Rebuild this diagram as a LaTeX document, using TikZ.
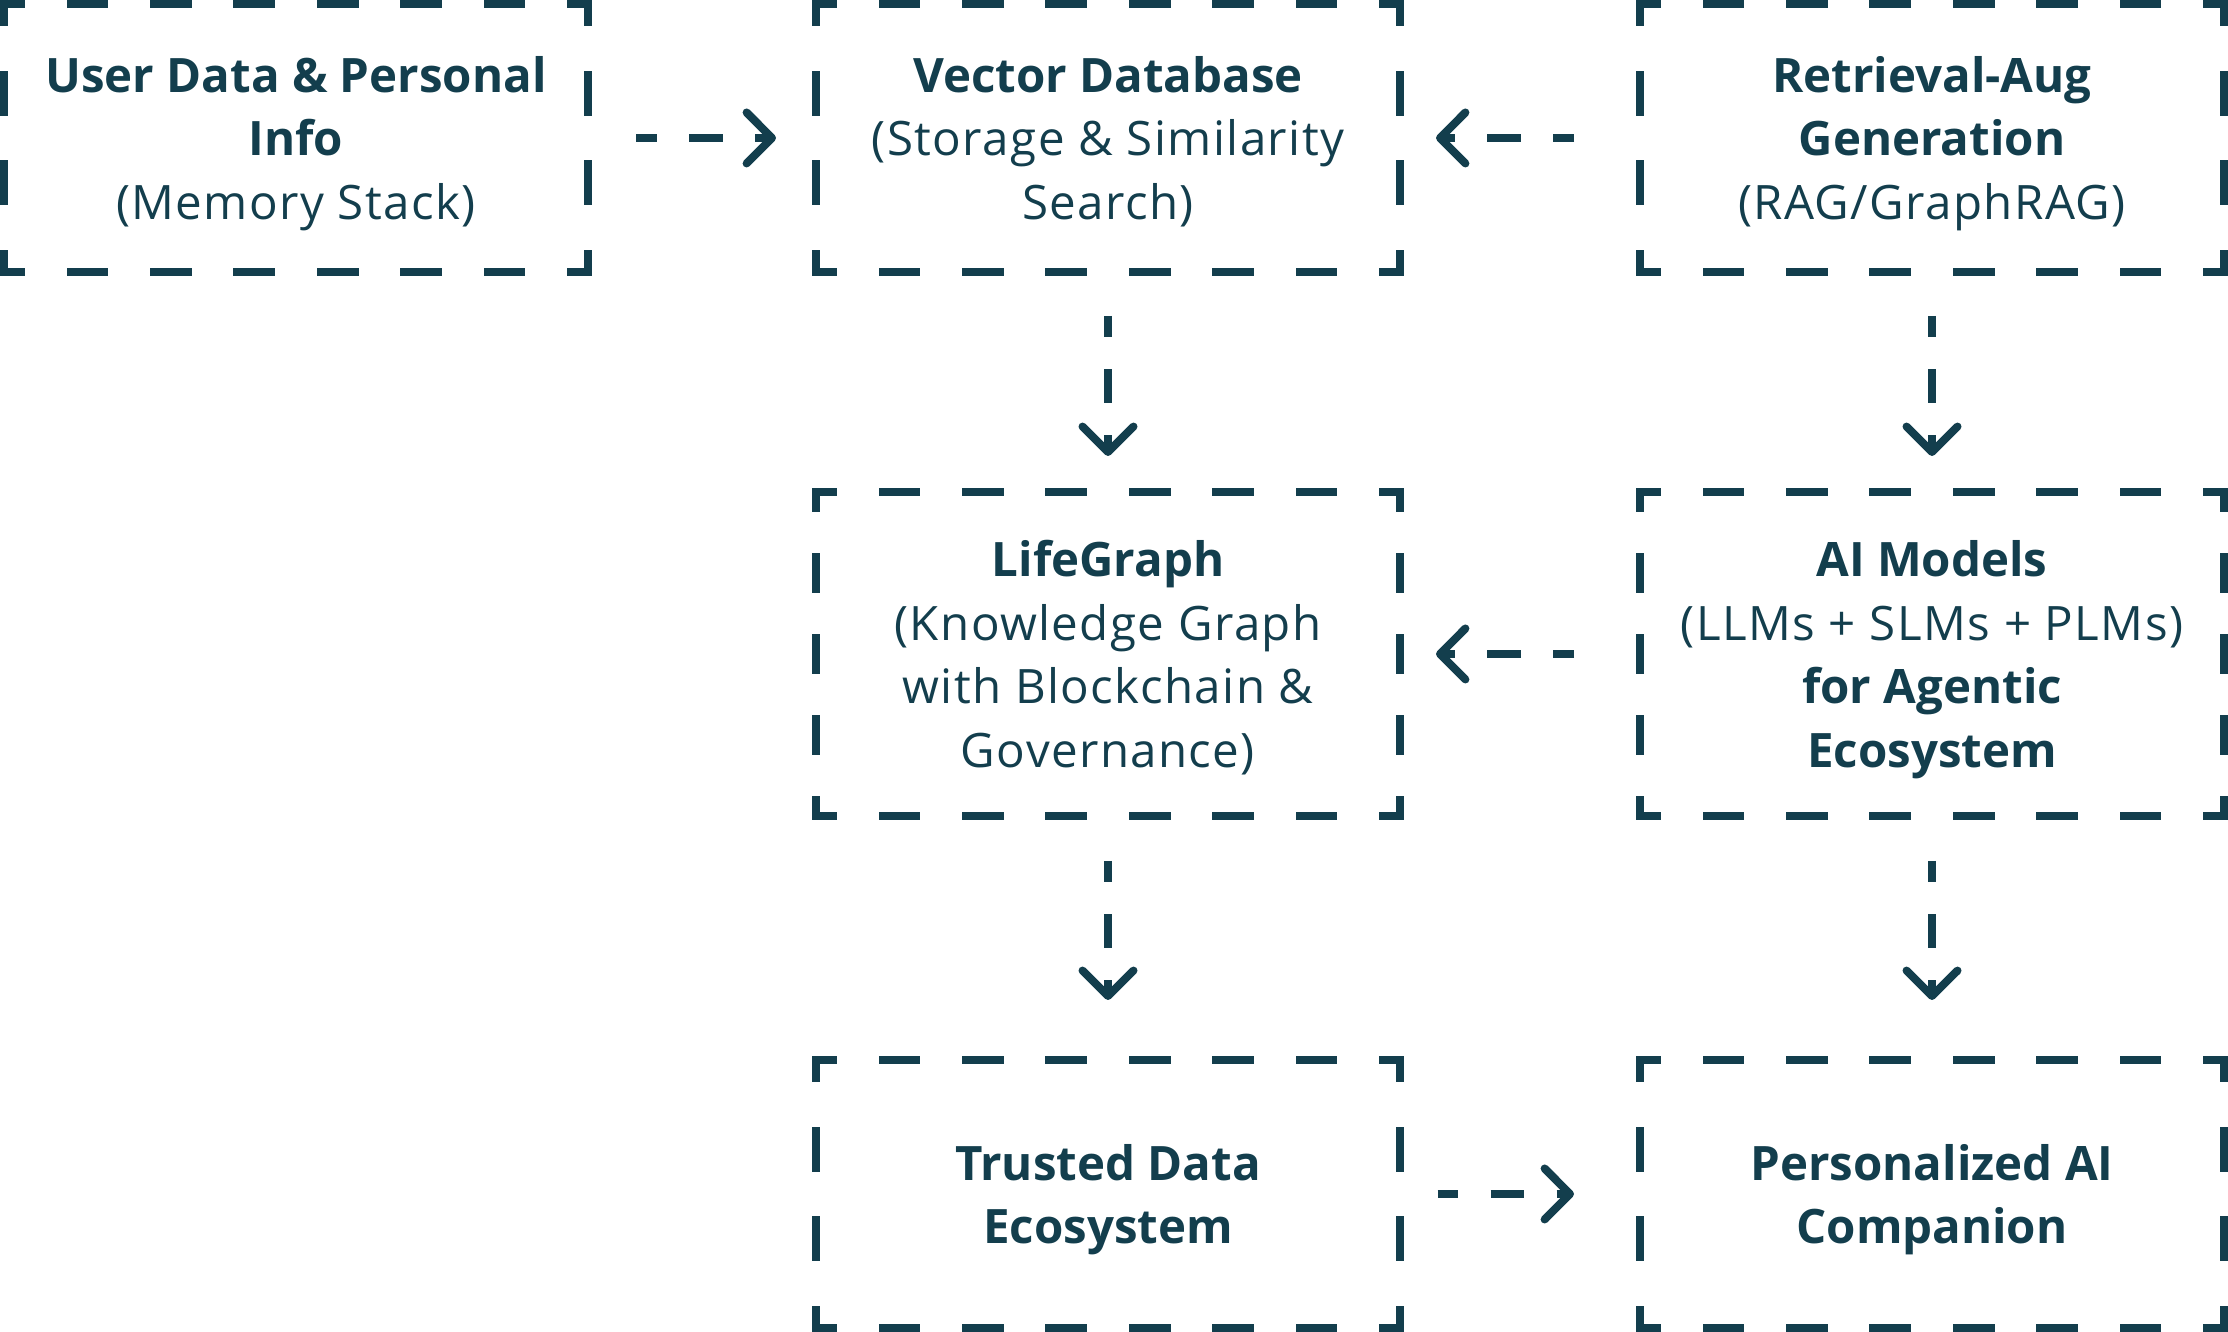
\documentclass[tikz,border=0pt]{standalone}
\usepackage{fontspec}
\setmainfont{Open Sans}[UprightFeatures={LetterSpace=3.0}]
\usetikzlibrary{arrows.meta}
\definecolor{ink}{HTML}{133E4D}

\begin{document}
\begin{tikzpicture}
[inner sep=0pt,outer sep=0pt,
block/.style={rectangle,minimum width=5.84cm,minimum height=2.68cm,align=center,
  text depth=0pt,text=ink,font=\fontsize{13.5}{18.1}\selectfont},
tall block/.style={block,minimum height=3.24cm},
hside/.style={draw=ink,line width=.8mm,line cap=rect,dash pattern=on 3.371mm off 4.971mm,dash phase=1.686mm},
vside/.style={draw=ink,line width=.8mm,line cap=rect,dash pattern=on 3.667mm off 5.267mm,dash phase=1.833mm},
vside tall/.style={vside,dash pattern=on 3.25mm off 4.85mm,dash phase=1.625mm},
flow/.style={draw=ink,line width=.8mm,dash pattern=on 3.35mm off 3.25mm,dash phase=1.28mm,
  -{Straight Barb[length=2.54mm,width=5.1mm,line cap=round,line join=round]}}]
\useasboundingbox (0,0) rectangle (22.28,13.32);

% top row
\node[block] (user) at (2.96,11.94) {\textbf{User Data \& Personal}\\\textbf{Info}\\(Memory Stack)};
\node[block] (vector) at (11.08,11.94) {\textbf{Vector Database}\\(Storage \& Similarity\\Search)};
\node[block] (rag) at (19.32,11.94) {\textbf{Retrieval-Aug}\\\textbf{Generation}\\(RAG/GraphRAG)};
% middle row
\node[tall block] (life) at (11.08,6.78) {\textbf{LifeGraph}\\(Knowledge Graph\\with Blockchain \&\\Governance)};
\node[tall block] (ai) at (19.32,6.78) {\textbf{AI Models}\\(LLMs + SLMs + PLMs)\\\textbf{for Agentic}\\\textbf{Ecosystem}};
% bottom row
\node[block] (trusted) at (11.08,1.38) {\textbf{Trusted Data}\\\textbf{Ecosystem}};
\node[block] (comp) at (19.32,1.38) {\textbf{Personalized AI}\\\textbf{Companion}};

% dashed frames
\foreach \n in {user,vector,rag,life,ai,trusted,comp}
  \draw[hside] (\n.north west) -- (\n.north east) (\n.south west) -- (\n.south east);
\foreach \n in {user,vector,rag,trusted,comp}
  \draw[vside] (\n.north west) -- (\n.south west) (\n.north east) -- (\n.south east);
\foreach \n in {life,ai}
  \draw[vside tall] (\n.north west) -- (\n.south west) (\n.north east) -- (\n.south east);

% connectors
\draw[flow,shorten <=4.8mm,shorten >=4mm] (user.east) -- (vector.west);
\draw[flow,shorten <=6.6mm,shorten >=3.6mm] (rag.west) -- (vector.east);
\draw[flow,shorten <=4.4mm,shorten >=3.6mm] (vector.south) -- (life.north);
\draw[flow,shorten <=4.4mm,shorten >=3.6mm] (rag.south) -- (ai.north);
\draw[flow,shorten <=6.6mm,shorten >=3.6mm] (ai.west) -- (life.east);
\draw[flow,shorten <=4.5mm,shorten >=6mm] (life.south) -- (trusted.north);
\draw[flow,shorten <=4.5mm,shorten >=6mm] (ai.south) -- (comp.north);
\draw[flow,shorten <=3.75mm,shorten >=6.6mm] (trusted.east) -- (comp.west);
\end{tikzpicture}
\end{document}
